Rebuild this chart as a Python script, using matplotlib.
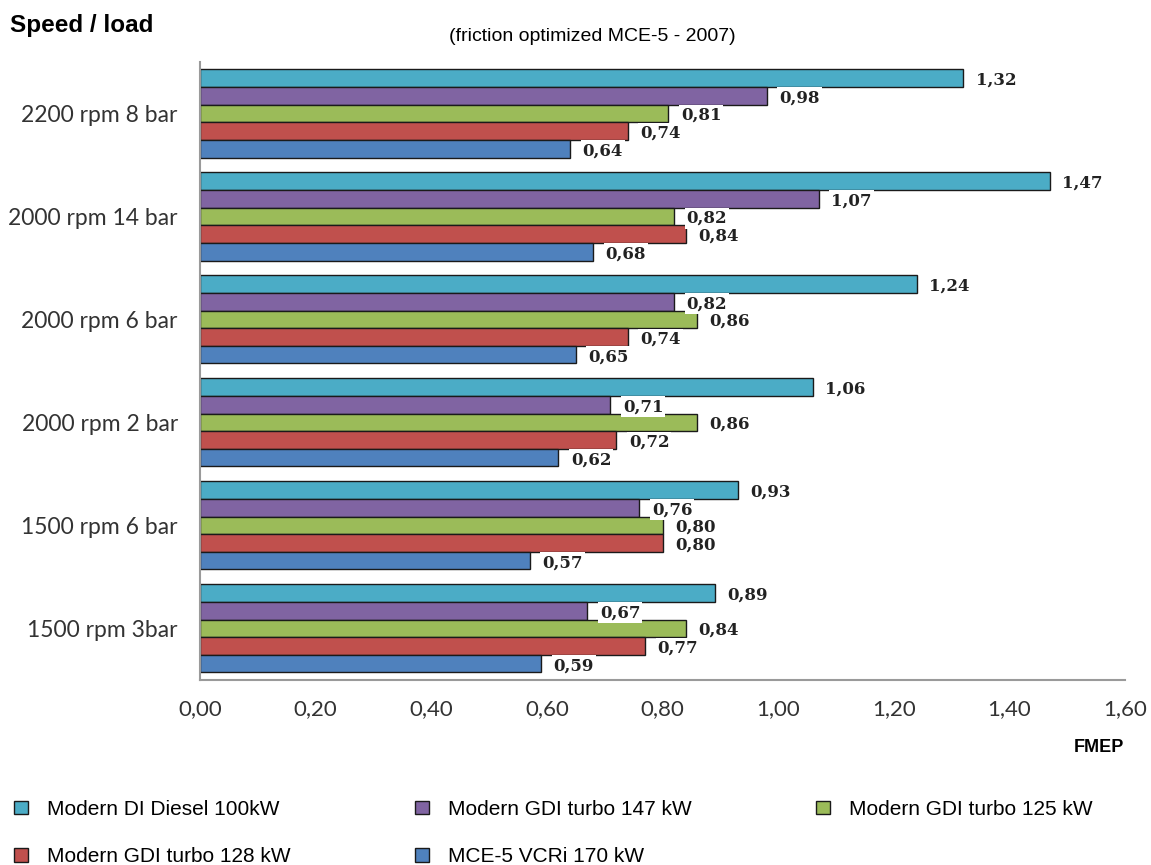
import numpy as np
import matplotlib.pyplot as plt

# chart data
groups = ['2200 rpm 8 bar', '2000 rpm 14 bar', '2000 rpm 6 bar',
          '2000 rpm 2 bar', '1500 rpm 6 bar', '1500 rpm 3bar']
series = ['Modern DI Diesel 100kW', 'Modern GDI turbo 147 kW',
          'Modern GDI turbo 125 kW', 'Modern GDI turbo 128 kW',
          'MCE-5 VCRi 170 kW']
diesel_100 = [1.32, 1.47, 1.24, 1.06, 0.93, 0.89]
gdi_147 = [0.98, 1.07, 0.82, 0.71, 0.76, 0.67]
gdi_125 = [0.81, 0.82, 0.86, 0.86, 0.80, 0.84]
gdi_128 = [0.74, 0.84, 0.74, 0.72, 0.80, 0.77]
mce5_170 = [0.64, 0.68, 0.65, 0.62, 0.57, 0.59]
values = [diesel_100, gdi_147, gdi_125, gdi_128, mce5_170]
colors = ['#4BACC6', '#8064A2', '#9BBB59', '#C0504D', '#4F81BD']
xticks = [0.0, 0.2, 0.4, 0.6, 0.8, 1.0, 1.2, 1.4, 1.6]

fig = plt.figure(figsize=(11.51, 8.65), dpi=100)
ax = fig.add_axes([0.1738, 0.214, 0.8036, 0.7143])

y = np.arange(len(groups))
h = 0.171
bars = []
for i, (name, vals, c) in enumerate(zip(series, values, colors)):
    pos = y + (i - 2) * h
    b = ax.barh(pos, vals, height=h, color=c, edgecolor='#1a1a1a',
                linewidth=1.0, label=name, zorder=2)
    bars.append(b)
    for p, v in zip(pos, vals):
        ax.annotate(('%.2f' % v).replace('.', ','), xy=(v, p),
                    xytext=(9, -1.5), textcoords='offset points',
                    ha='left', va='center', fontsize=12, fontweight='bold',
                    family='DejaVu Serif', color='#222222', zorder=4,
                    bbox=dict(boxstyle='square,pad=0.12', fc='white', ec='none'))

ax.set_ylim(len(groups) - 0.5, -0.5)
ax.set_xlim(0, 1.6)
ax.set_yticks(y)
ax.set_yticklabels(groups, family='Lato', fontsize=16.5, color='#333333')
ax.set_xticks(xticks)
ax.set_xticklabels([('%.2f' % t).replace('.', ',') for t in xticks],
                   family='Lato', fontsize=16, color='#333333')
ax.tick_params(axis='y', length=0, pad=16)
ax.tick_params(axis='x', length=0, pad=14)
for s in ['top', 'right']:
    ax.spines[s].set_visible(False)
for s in ['left', 'bottom']:
    ax.spines[s].set_color('#9a9a9a')
    ax.spines[s].set_linewidth(1.5)

fig.text(0.0087, 0.97, 'Speed / load', family='Liberation Sans',
         fontweight='bold', fontsize=17.5, va='center', ha='left')
fig.text(0.515, 0.958, '(friction optimized MCE-5 - 2007)',
         family='Liberation Sans', fontsize=14, va='center', ha='center')
fig.text(0.977, 0.136, 'FMEP', family='Liberation Sans', fontweight='bold',
         fontsize=13, va='center', ha='right')

# legend row-major order
order = [0, 3, 1, 4, 2]
handles = [bars[k] for k in order]
labels = [series[k] for k in order]
leg = fig.legend(handles, labels, loc='upper left', bbox_to_anchor=(-0.004, 0.097),
                 ncol=3, frameon=False, prop={'family': 'Liberation Sans', 'size': 15},
                 handlelength=0.65, handleheight=0.65, handletextpad=0.95,
                 columnspacing=5.95, labelspacing=1.35)

fig.savefig('out.png', dpi=100)
